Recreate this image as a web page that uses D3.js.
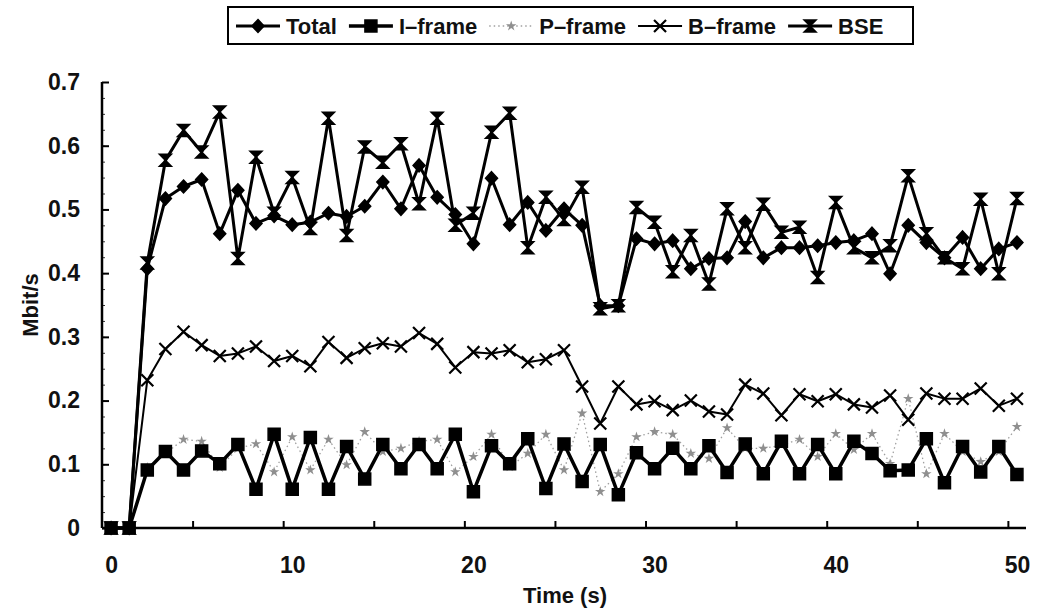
<!DOCTYPE html>
<html lang='en'>
<head>
    <title>Bitrate per frame type</title>
    <meta charset='UTF-8'>
    <script src='https://d3js.org/d3.v7.min.js'></script>
    <style>
      body { margin: 0; background: #fff; }
      svg { display: block; }
      text { font-family: 'Liberation Sans', Arial, sans-serif; font-weight: bold; fill: #111; }
    </style>
</head>
<body>
<div id='viz'>
    <svg width='1041' height='608'></svg>
</div>

<script>
    // time categories (s)
    const time = [0, 1, 2, 3, 4, 5, 6, 7, 8, 9, 10, 11, 12, 13, 14, 15, 16, 17, 18, 19, 20,
                  21, 22, 23, 24, 25, 26, 27, 28, 29, 30, 31, 32, 33, 34, 35, 36, 37, 38, 39, 40,
                  41, 42, 43, 44, 45, 46, 47, 48, 49, 50]

    // Mbit/s per series
    const total = [0, 0, 0.407, 0.517, 0.536, 0.547, 0.462, 0.53, 0.478, 0.49, 0.476, 0.48, 0.494, 0.489, 0.505, 0.543, 0.501,
                   0.569, 0.519, 0.492, 0.446, 0.549, 0.476, 0.511, 0.467, 0.501, 0.475, 0.349, 0.349, 0.454, 0.446, 0.451, 0.407,
                   0.423, 0.424, 0.481, 0.424, 0.44, 0.44, 0.443, 0.448, 0.451, 0.462, 0.399, 0.475, 0.448, 0.424, 0.456, 0.407, 0.438, 0.448]
    const iframe = [0, 0, 0.091, 0.12, 0.091, 0.121, 0.101, 0.131, 0.061, 0.147, 0.061, 0.142, 0.061, 0.128, 0.077, 0.131, 0.093,
                    0.131, 0.093, 0.147, 0.057, 0.129, 0.101, 0.14, 0.062, 0.132, 0.073, 0.131, 0.052, 0.118, 0.093, 0.125, 0.093,
                    0.129, 0.087, 0.132, 0.085, 0.136, 0.085, 0.131, 0.085, 0.136, 0.117, 0.09, 0.091, 0.14, 0.071, 0.128, 0.088, 0.128, 0.084]
    const pframe = [0, 0, 0.095, 0.117, 0.139, 0.136, 0.095, 0.125, 0.132, 0.088, 0.143, 0.091, 0.139, 0.099, 0.151, 0.12, 0.125,
                    0.136, 0.139, 0.088, 0.112, 0.147, 0.096, 0.117, 0.147, 0.091, 0.18, 0.057, 0.085, 0.143, 0.151, 0.147, 0.117,
                    0.109, 0.157, 0.125, 0.125, 0.13, 0.139, 0.112, 0.148, 0.123, 0.148, 0.101, 0.203, 0.085, 0.148, 0.12, 0.104, 0.12, 0.159]
    const bframe = [0, 0, 0.232, 0.281, 0.308, 0.287, 0.27, 0.274, 0.285, 0.262, 0.27, 0.254, 0.292, 0.267, 0.282, 0.29, 0.285,
                    0.306, 0.289, 0.252, 0.276, 0.274, 0.279, 0.26, 0.265, 0.279, 0.222, 0.164, 0.222, 0.194, 0.199, 0.185, 0.2,
                    0.183, 0.178, 0.225, 0.211, 0.177, 0.21, 0.199, 0.21, 0.194, 0.189, 0.208, 0.17, 0.211, 0.203, 0.203, 0.219, 0.192, 0.203]
    const bse = [0, 0, 0.416, 0.577, 0.624, 0.59, 0.653, 0.423, 0.582, 0.494, 0.55, 0.47, 0.643, 0.459, 0.598, 0.574, 0.603,
                 0.509, 0.643, 0.475, 0.494, 0.621, 0.651, 0.44, 0.519, 0.484, 0.535, 0.344, 0.349, 0.503, 0.48, 0.402, 0.459,
                 0.383, 0.501, 0.44, 0.508, 0.464, 0.472, 0.393, 0.511, 0.44, 0.424, 0.443, 0.553, 0.462, 0.424, 0.407, 0.516, 0.399, 0.517]

    const legendNames = ['Total', 'I\u2013frame', 'P\u2013frame', 'B\u2013frame', 'BSE']
    const yTicks = [0, 0.1, 0.2, 0.3, 0.4, 0.5, 0.6, 0.7]
    const xLabels = [0, 10, 20, 30, 40, 50]

    // marker shapes, drawn around 0,0
    const markers = {
      diamond: 'M0,-6.5L6,0L0,6.5L-6,0Z',
      square: 'M-6,-6H6V6H-6Z',
      star: d3.symbol().type(d3.symbolStar).size(34)(),
      cross: 'M-6,-6L6,6M6,-6L-6,6',
      hourglass: 'M-6,-6H6L-6,6H6Z'
    }

    // drawing order: light P-frame first, heavy lines last
    const series = [
      { name: legendNames[2], values: pframe, marker: 'star', color: '#a0a0a0', width: 1.3, dash: '1.5,3', fill: '#8f8f8f' },
      { name: legendNames[3], values: bframe, marker: 'cross', color: '#000', width: 2, dash: null, fill: 'none' },
      { name: legendNames[1], values: iframe, marker: 'square', color: '#000', width: 3.5, dash: null, fill: '#000' },
      { name: legendNames[0], values: total, marker: 'diamond', color: '#000', width: 3, dash: null, fill: '#000' },
      { name: legendNames[4], values: bse, marker: 'hourglass', color: '#000', width: 3, dash: null, fill: '#000' }
    ]

    const svg = d3.select('svg')

    // category axis: points sit in the middle of each slot
    const x = d3.scaleLinear().domain([-0.5, 50.5]).range([102, 1026])
    const y = d3.scaleLinear().domain([0, 0.7]).range([528, 82])

    // minor y ticks
    svg.append('g')
        .attr('transform', 'translate(102,0)')
        .call(d3.axisLeft(y).tickValues(d3.range(0, 0.7001, 0.025)).tickSize(-3).tickFormat(''))
        .call(g => g.select('.domain').remove())
        .call(g => g.selectAll('line').attr('stroke', '#333').attr('stroke-width', 1))

    // y axis, ticks point inside
    svg.append('g')
        .attr('transform', 'translate(102,0)')
        .call(d3.axisLeft(y).tickValues(yTicks).tickSize(-7).tickPadding(22).tickFormat(d => d === 0 ? '0' : d3.format('.1f')(d)))
        .call(g => g.select('.domain').attr('stroke', '#000').attr('stroke-width', 2.5).attr('d', 'M0,' + y(0.7) + 'V' + y(0)))
        .call(g => g.selectAll('line').attr('stroke', '#000').attr('stroke-width', 2))
        .call(g => g.selectAll('text').style('font-size', '23px'))

    // x axis ticks sit between categories
    svg.append('g')
        .attr('transform', 'translate(0,528)')
        .call(d3.axisBottom(x).tickValues([4.5, 9.5, 14.5, 19.5, 24.5, 29.5, 34.5, 39.5, 44.5, 49.5]).tickSize(-7).tickFormat(''))
        .call(g => g.select('.domain').attr('stroke', '#000').attr('stroke-width', 2.5).attr('d', 'M102,0H1026'))
        .call(g => g.selectAll('line').attr('stroke', '#000').attr('stroke-width', 2))

    svg.append('g')
        .attr('transform', 'translate(0,528)')
        .call(d3.axisBottom(x).tickValues(xLabels).tickSize(0).tickPadding(29))
        .call(g => g.select('.domain').remove())
        .call(g => g.selectAll('text').style('font-size', '23px'))

    // axis titles
    svg.append('text')
        .attr('transform', 'translate(38,305) rotate(-90)')
        .attr('text-anchor', 'middle')
        .style('font-size', '22px')
        .text('Mbit/s')

    svg.append('text')
        .attr('x', 565)
        .attr('y', 603)
        .attr('text-anchor', 'middle')
        .style('font-size', '22px')
        .text('Time (s)')

    const line = d3.line()
      .x((d, i) => x(time[i]))
      .y(d => y(d))

    const seriesG = svg.append('g').selectAll('g')
      .data(series).enter()
      .append('g')

    seriesG.append('path')
        .attr('d', d => line(d.values))
        .attr('fill', 'none')
        .attr('stroke', d => d.color)
        .attr('stroke-width', d => d.width)
        .attr('stroke-dasharray', d => d.dash)
        .attr('stroke-linejoin', 'round')

    seriesG.each(function (s) {
      d3.select(this).selectAll('path.mark')
        .data(s.values).enter()
        .append('path')
          .attr('class', 'mark')
          .attr('transform', (d, i) => `translate(${x(time[i])},${y(d)})`)
          .attr('d', markers[s.marker])
          .attr('fill', s.fill)
          .attr('stroke', s.marker === 'star' ? 'none' : '#000')
          .attr('stroke-width', s.marker === 'cross' ? 2.2 : 1.5)
    })

    // legend box along the top
    const legend = svg.append('g')
    legend.append('rect')
        .attr('x', 228).attr('y', 7)
        .attr('width', 685).attr('height', 37)
        .attr('fill', 'none')
        .attr('stroke', '#000')
        .attr('stroke-width', 2)

    const legendOrder = [3, 2, 0, 1, 4] // Total, I, P, B, BSE
    let lx = 236
    legendOrder.forEach(k => {
      const s = series[k]
      const item = legend.append('g').attr('transform', `translate(${lx},26)`)
      item.append('line')
          .attr('x1', 0).attr('x2', 44)
          .attr('stroke', s.color)
          .attr('stroke-width', s.width)
          .attr('stroke-dasharray', s.dash)
      item.append('path')
          .attr('transform', 'translate(22,0)')
          .attr('d', markers[s.marker])
          .attr('fill', s.fill)
          .attr('stroke', s.marker === 'star' ? 'none' : '#000')
          .attr('stroke-width', s.marker === 'cross' ? 2.2 : 1.5)
      const t = item.append('text')
          .attr('x', 50)
          .attr('y', 8)
          .style('font-size', '22px')
          .text(s.name)
      lx += 50 + t.node().getComputedTextLength() + 12
    })
</script>
</body>
</html>
